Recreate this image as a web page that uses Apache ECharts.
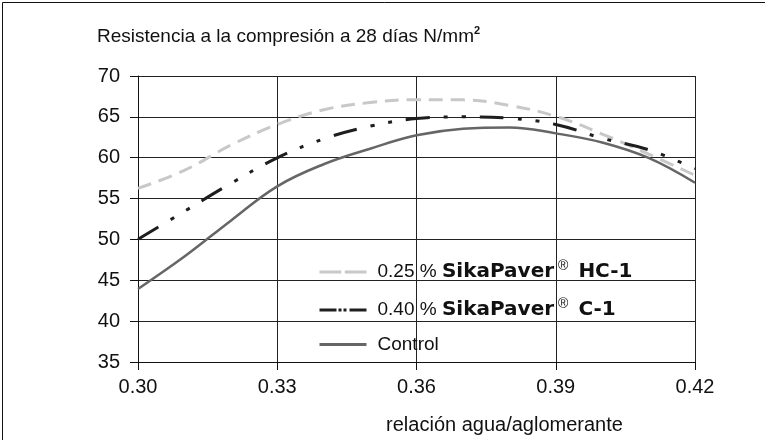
<!DOCTYPE html>
<html>
<head>
<meta charset="utf-8">
<script src="https://cdn.jsdelivr.net/npm/echarts@6/dist/echarts.min.js"></script>
<style>
html,body{margin:0;padding:0;background:#fff;}
#chart{width:765px;height:440px;}
</style>
</head>
<body>
<div id="chart"></div>
<script>
// ---- data ----
const xValues = [0.30, 0.31, 0.32, 0.33, 0.34, 0.35, 0.36, 0.37, 0.38, 0.39, 0.40, 0.41, 0.42];
const hc1Values = [56.25, 58.45, 61.54, 64.07, 65.87, 66.75, 67.1, 67.08, 66.4, 65.07, 62.9, 60.45, 57.85];
const c1Values = [50.03, 53.44, 56.85, 59.98, 62.3, 63.86, 64.79, 65.0, 64.83, 64.07, 62.38, 60.97, 58.65];
const controlValues = [43.94, 47.9, 52.3, 56.5, 59.2, 61.1, 62.74, 63.55, 63.71, 62.98, 61.86, 59.97, 56.93];
const seriesNames = ['0.25 % SikaPaver® HC-1', '0.40 % SikaPaver® C-1', 'Control'];
const titleText = 'Resistencia a la compresión a 28 días N/mm';
const xAxisName = 'relación agua/aglomerante';
const yMin = 35, yMax = 70, yStep = 5;
const xMin = 0.30, xMax = 0.42, xStep = 0.03;

const REG = '"Liberation Sans", Arial, sans-serif';
const BOLD = '"DejaVu Sans", sans-serif';

function pairs(vals){ return xValues.map((x,i)=>[x, vals[i]]); }

const chart = echarts.init(document.getElementById('chart'), null, {renderer:'canvas'});
const hidden = {opacity:0, borderWidth:0};
const option = {
  backgroundColor:'#fff',
  animation:false,
  title:{
    left:92, top:20,
    text:'{a|' + titleText + '}{s|2}',
    textStyle:{
      rich:{
        a:{fontFamily:REG, fontSize:19, color:'#111', fontWeight:'normal', lineHeight:24},
        s:{fontFamily:REG, fontSize:11, color:'#111', verticalAlign:'top', lineHeight:14}
      }
    }
  },
  grid:{left:138, right:70, top:76, bottom:73, containLabel:false},
  legend:{
    orient:'vertical', left:313, top:254,
    itemWidth:47, itemHeight:14, itemGap:15,
    data:[
      {name:seriesNames[0], itemStyle:hidden, lineStyle:{type:[21.7,3.6], width:3, color:'#c8c8c8'}},
      {name:seriesNames[1], itemStyle:hidden, lineStyle:{type:[17,2,3,2,3,3], width:3, color:'#1e1e1e'}},
      {name:seriesNames[2], itemStyle:hidden, lineStyle:{type:'solid', width:3, color:'#666'}}
    ],
    formatter:function(name){
      if(name===seriesNames[0]) return '{r|0.25 % }{b|SikaPaver}{s|®}{h|HC-1}';
      if(name===seriesNames[1]) return '{r|0.40 % }{b|SikaPaver}{s|®}{h|C-1}';
      return '{r|Control}';
    },
    textStyle:{
      padding:[0,0,0,6],
      rich:{
        r:{fontFamily:REG, fontSize:19, color:'#111', lineHeight:26},
        b:{fontFamily:BOLD, fontWeight:'bold', fontSize:20, color:'#111', lineHeight:26},
        h:{fontFamily:BOLD, fontWeight:'bold', fontSize:20, color:'#111', lineHeight:26, padding:[0,0,0,10]},
        s:{fontFamily:REG, fontSize:14, color:'#111', verticalAlign:'top', lineHeight:14, padding:[0,0,0,4]}
      }
    }
  },
  xAxis:{
    type:'value', min:xMin, max:xMax, interval:xStep,
    name:xAxisName, nameLocation:'middle', nameGap:53,
    nameTextStyle:{fontFamily:REG, fontSize:20, color:'#111', padding:[0,0,0,176]},
    axisLine:{show:true, lineStyle:{color:'#111', width:1}},
    axisTick:{show:true, inside:false, length:8, lineStyle:{color:'#111'}},
    axisLabel:{fontFamily:REG, fontSize:20, color:'#111', margin:15,
      formatter:v=>v.toFixed(2)},
    splitLine:{show:true, lineStyle:{color:'#222', width:1}}
  },
  yAxis:{
    type:'value', min:yMin, max:yMax, interval:yStep,
    axisLine:{show:true, lineStyle:{color:'#111', width:1}},
    axisTick:{show:true, inside:false, length:8, lineStyle:{color:'#111'}},
    axisLabel:{fontFamily:REG, fontSize:20, color:'#111', margin:18},
    splitLine:{show:true, lineStyle:{color:'#222', width:1}}
  },
  series:[
    {name:seriesNames[0], type:'line', data:pairs(hc1Values), smooth:0.4, symbol:'none',
      lineStyle:{color:'#c8c8c8', width:3, type:[14,8]}, itemStyle:{color:'#c8c8c8'}, z:3},
    {name:seriesNames[1], type:'line', data:pairs(c1Values), smooth:0.4, symbol:'none',
      lineStyle:{color:'#1e1e1e', width:3, type:[24,14,4,14,4,14]}, itemStyle:{color:'#1e1e1e'}, z:4},
    {name:seriesNames[2], type:'line', data:pairs(controlValues), smooth:0.4, symbol:'none',
      lineStyle:{color:'#666', width:2.5, type:'solid'}, itemStyle:{color:'#666'}, z:2}
  ],
  graphic:[
    {type:'rect', left:0, top:0, shape:{x:0.5, y:0.5, width:764, height:439},
      style:{fill:null, stroke:'#111', lineWidth:1}, silent:true}
  ]
};
chart.setOption(option);
</script>
</body>
</html>
